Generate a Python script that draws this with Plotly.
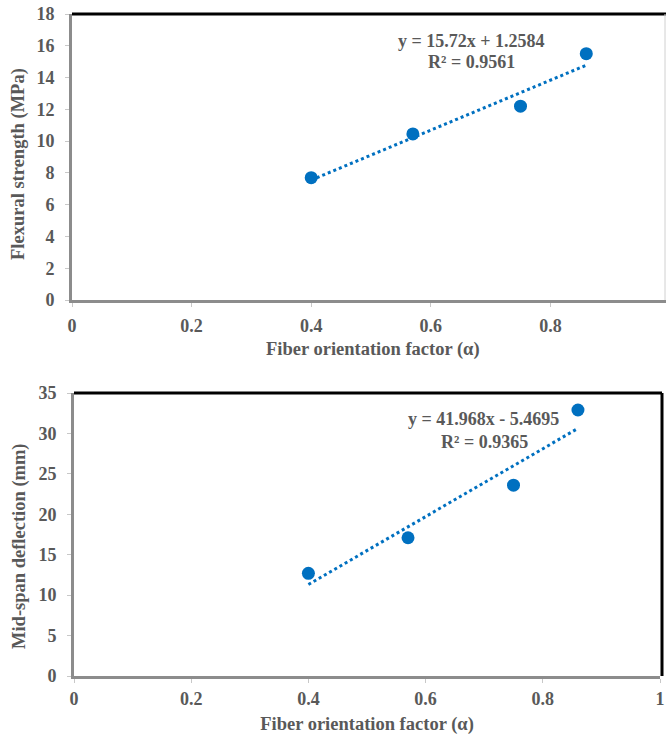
import plotly.graph_objects as go

alpha = [0.40, 0.57, 0.75, 0.86]
flexural = [7.7, 10.45, 12.2, 15.5]
deflection = [12.7, 17.1, 23.6, 32.9]

fit1 = (15.72, 1.2584)
fit2 = (41.968, -5.4695)
eq1 = ["y = 15.72x + 1.2584", "R² = 0.9561"]
eq2 = ["y = 41.968x - 5.4695", "R² = 0.9365"]

xticks = [0, 0.2, 0.4, 0.6, 0.8, 1]
xticklabels = ["0", "0.2", "0.4", "0.6", "0.8", "1"]
yticks1 = list(range(0, 19, 2))
yticks2 = list(range(0, 36, 5))
xtitle = "Fiber orientation factor (α)"

W, H = 666, 735
BLUE = "#0070C0"
GRAY = "#595959"
FONT = "Liberation Serif"

def px(x):
    return x / W

def py(y):
    return 1 - y / H

fig = go.Figure()

xfit = [min(alpha), max(alpha)]
fig.add_trace(go.Scatter(x=alpha, y=flexural, mode="markers",
                         marker=dict(color=BLUE, size=13), xaxis="x", yaxis="y", showlegend=False))
fig.add_trace(go.Scatter(x=xfit, y=[fit1[0] * v + fit1[1] for v in xfit], mode="lines",
                         line=dict(color=BLUE, width=3, dash="dot"), xaxis="x", yaxis="y", showlegend=False))
fig.add_trace(go.Scatter(x=alpha, y=deflection, mode="markers",
                         marker=dict(color=BLUE, size=13), xaxis="x2", yaxis="y2", showlegend=False))
fig.add_trace(go.Scatter(x=xfit, y=[fit2[0] * v + fit2[1] for v in xfit], mode="lines",
                         line=dict(color=BLUE, width=3, dash="dot"), xaxis="x2", yaxis="y2", showlegend=False))

titlefont = dict(family=FONT, size=18.5, color=GRAY, weight="bold")
eqfont = dict(family=FONT, size=18, color=GRAY, weight="bold")
tickfont = dict(family=FONT, size=18, color=GRAY, weight="bold")
axcommon = dict(showgrid=False, zeroline=False, showline=True, linecolor="#8c8c8c", linewidth=3,
                ticks="outside", ticklen=4, tickcolor="#c8c8c8", tickwidth=1, tickfont=tickfont,
                ticklabeloverflow="allow", automargin=False)

top_x0, top_x1 = 72, 670
top_range_max = (W - top_x0) / (top_x1 - top_x0)
fig.update_layout(
    xaxis=dict(domain=[px(top_x0), 1], range=[0, top_range_max], tickvals=xticks[:-1],
               ticktext=xticklabels[:-1], anchor="y", ticklabelstandoff=3, **axcommon),
    yaxis=dict(domain=[py(300), py(14)], range=[0, 18], tickvals=yticks1, anchor="x",
               ticklabelstandoff=7, **axcommon),
    xaxis2=dict(domain=[px(74), px(660)], range=[0, 1], tickvals=xticks, ticktext=xticklabels,
                anchor="y2", ticklabelstandoff=0, **axcommon),
    yaxis2=dict(domain=[py(676), py(393)], range=[0, 35], tickvals=yticks2, anchor="x2",
                ticklabelstandoff=7, **axcommon),
)
fig.update_layout(xaxis2_title=dict(text=xtitle, font=titlefont, standoff=12))

shapes = [
    dict(type="line", xref="paper", yref="paper", x0=px(top_x0), x1=1, y0=py(14), y1=py(14),
         line=dict(color="black", width=3)),
    dict(type="line", xref="paper", yref="paper", x0=px(665), x1=px(665), y0=py(14), y1=py(300),
         line=dict(color="#d0d0d0", width=1)),
    dict(type="line", xref="paper", yref="paper", x0=px(74), x1=px(662), y0=py(393), y1=py(393),
         line=dict(color="black", width=3)),
    dict(type="line", xref="paper", yref="paper", x0=px(662), x1=px(662), y0=py(393), y1=py(676),
         line=dict(color="black", width=3)),
]

def a(text, x, y, font, angle=0):
    return dict(text=text, x=px(x), y=py(y), xref="paper", yref="paper", showarrow=False,
                xanchor="center", yanchor="middle", textangle=angle, font=font)

ann = [
    a(xtitle, 373, 349, titlefont),
    a("Flexural strength (MPa)", 19, 164, titlefont, -90),
    a("Mid-span deflection (mm)", 19, 546, titlefont, -90),
    a(eq1[0], 471, 41, eqfont),
    a(eq1[1], 471, 62, eqfont),
    a(eq2[0], 483, 419, eqfont),
    a(eq2[1], 484, 442, eqfont),
]

fig.update_layout(width=W, height=H, margin=dict(l=0, r=0, t=0, b=0),
                  paper_bgcolor="white", plot_bgcolor="white",
                  shapes=shapes, annotations=ann)

fig.write_html("out.html")
